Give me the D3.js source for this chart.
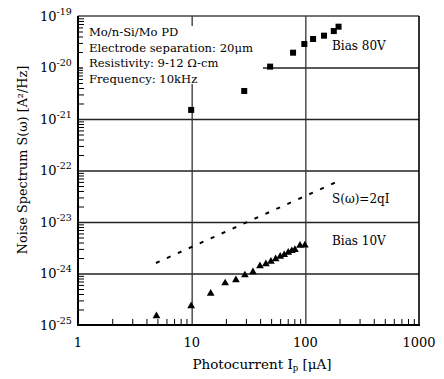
<!DOCTYPE html>
<html>
<head>
<meta charset="utf-8">
<script src="https://d3js.org/d3.v7.min.js"></script>
<style>
  html, body { margin: 0; padding: 0; background: #fff; }
  svg text { font-family: "DejaVu Serif", serif; fill: #000; }
</style>
</head>
<body>
<div id="chart"></div>
<script>
// photocurrent (uA) and noise spectrum (A^2/Hz)
const bias80X = [9.9, 29, 49, 78, 98, 117, 146, 178, 196];
const bias80Y = [1.5e-21, 3.5e-21, 1.04e-20, 1.94e-20, 2.86e-20, 3.58e-20, 4.15e-20, 5.1e-20, 6.2e-20];

const bias10X = [4.9, 9.9, 14.7, 19.7, 24.5, 29.4, 34.6, 39.9, 45, 49.8, 54.8, 60.1, 65.2, 70.7, 76, 81, 89.7, 99];
const bias10Y = [1.5e-25, 2.35e-25, 4.1e-25, 6.5e-25, 7.5e-25, 9.3e-25, 1.07e-24, 1.4e-24, 1.53e-24, 1.71e-24,
                 1.91e-24, 2.14e-24, 2.3e-24, 2.55e-24, 2.75e-24, 2.9e-24, 3.5e-24, 3.55e-24];

// shot noise line S = 2qI, end points
const shotX = [4.85, 198];
const shotY = [1.6e-24, 6.3e-23];

const xTicks = [1, 10, 100, 1000];
const yExps = [-25, -24, -23, -22, -21, -20, -19];
const noteLines = ['Mo/n-Si/Mo PD', 'Electrode separation: 20\u03bcm', 'Resistivity: 9-12 \u03a9-cm', 'Frequency: 10kHz'];

const width = 444;
const height = 379;
const margin = { top: 16, right: 25, bottom: 54, left: 78 };
const innerWidth = width - margin.left - margin.right;
const innerHeight = height - margin.top - margin.bottom;

const svg = d3.select('#chart').append('svg')
  .attr('width', width)
  .attr('height', height);

const g = svg.append('g')
  .attr('transform', `translate(${margin.left},${margin.top})`);

const xScale = d3.scaleLog().domain([1, 1000]).range([0, innerWidth]);
const yScale = d3.scaleLog().domain([1e-25, 1e-19]).range([innerHeight, 0]);

const minors = (lo, hi) => {
  const out = [];
  for (let d = lo; d < hi; d *= 10) for (let k = 2; k <= 9; k++) out.push(d * k);
  return out;
};

// strips the domain path and the empty labels off a line-only axis
const linesOnly = (sel, stroke, sw) => {
  sel.select('.domain').remove();
  sel.selectAll('text').remove();
  sel.selectAll('line').attr('stroke', stroke).attr('stroke-width', sw);
};

// grid lines
const yGrid = g.append('g').call(d3.axisLeft(yScale)
  .tickValues(yExps.slice(1, -1).map(e => Math.pow(10, e)))
  .tickSize(-innerWidth));
linesOnly(yGrid, '#222', 1.3);

const xGrid = g.append('g').attr('transform', `translate(0,${innerHeight})`)
  .call(d3.axisBottom(xScale).tickValues([10, 100]).tickSize(-innerHeight));
linesOnly(xGrid, '#333', 1.3);

// minor ticks
const xMinor = g.append('g').attr('transform', `translate(0,${innerHeight})`)
  .call(d3.axisBottom(xScale).tickValues(minors(1, 1000)).tickSize(-6));
linesOnly(xMinor, '#000', 1);

const yMinor = g.append('g')
  .call(d3.axisLeft(yScale).tickValues(minors(1e-25, 1e-19)).tickSize(-6));
linesOnly(yMinor, '#000', 1);

// frame
g.append('line').attr('x1', 0).attr('x2', innerWidth).attr('y1', 0).attr('y2', 0)
  .attr('stroke', '#444').attr('stroke-width', 1.3);
g.append('line').attr('x1', innerWidth).attr('x2', innerWidth).attr('y1', 0).attr('y2', innerHeight)
  .attr('stroke', '#000').attr('stroke-width', 1.6);
g.append('line').attr('x1', 0).attr('x2', 0).attr('y1', 0).attr('y2', innerHeight + 1)
  .attr('stroke', '#000').attr('stroke-width', 2);
g.append('line').attr('x1', -1).attr('x2', innerWidth + 1).attr('y1', innerHeight).attr('y2', innerHeight)
  .attr('stroke', '#000').attr('stroke-width', 2.2);

// tick labels, placed in page coordinates from the scales
svg.append('g').selectAll('text').data(xTicks)
  .enter().append('text')
    .attr('x', d => margin.left + xScale(d))
    .attr('y', margin.top + innerHeight + 22)
    .attr('text-anchor', 'middle')
    .attr('font-size', 13)
    .text(d3.format('d'));

svg.append('g').selectAll('text').data(yExps)
  .enter().append('text')
    .attr('x', margin.left - 38)
    .attr('y', d => margin.top + yScale(Math.pow(10, d)) + 4.8)
    .attr('font-size', 13)
    .each(function(d) {
      const t = d3.select(this);
      t.append('tspan').text('10');
      t.append('tspan').attr('font-size', 9.5).attr('dy', -6).text(String(d));
    });

// axis titles
const xTitle = svg.append('text')
  .attr('x', margin.left + 184)
  .attr('y', 369)
  .attr('text-anchor', 'middle')
  .attr('font-size', 13.5);
xTitle.append('tspan').text('Photocurrent I');
xTitle.append('tspan').attr('font-size', 8.5).attr('dy', 2).text('p');
xTitle.append('tspan').attr('dy', -2).text(' [\u03bcA]');

svg.append('text')
  .attr('transform', `translate(23,160) rotate(-90)`)
  .attr('text-anchor', 'middle')
  .attr('dy', '0.35em')
  .attr('font-size', 12.8)
  .text('Noise Spectrum S(\u03c9) [A\u00b2/Hz]');

// note box
g.append('rect')
  .attr('x', 5).attr('y', 10)
  .attr('width', 180).attr('height', 58)
  .attr('fill', '#fff');
g.append('g').selectAll('text').data(noteLines)
  .enter().append('text')
    .attr('x', 11)
    .attr('y', (d, i) => 20 + i * 15.7)
    .attr('font-size', 11.6)
    .text(d => d);

// shot noise dashed line
const shot = shotX.map((x, i) => [x, shotY[i]]);
g.append('path')
  .datum(shot)
  .attr('d', d3.line().x(d => xScale(d[0])).y(d => yScale(d[1])))
  .attr('fill', 'none')
  .attr('stroke', '#000')
  .attr('stroke-width', 2)
  .attr('stroke-dasharray', '4,8');

// bias 80V squares
const sq = 6;
g.selectAll('rect.b80').data(bias80X)
  .enter().append('rect')
    .attr('class', 'b80')
    .attr('x', (d, i) => xScale(d) - sq / 2)
    .attr('y', (d, i) => yScale(bias80Y[i]) - sq / 2)
    .attr('width', sq)
    .attr('height', sq)
    .attr('fill', '#000');

// bias 10V triangles
const tri = d3.symbol().type(d3.symbolTriangle).size(26);
g.selectAll('path.b10').data(bias10X)
  .enter().append('path')
    .attr('class', 'b10')
    .attr('d', tri)
    .attr('transform', (d, i) => `translate(${xScale(d)},${yScale(bias10Y[i])})`)
    .attr('fill', '#000');

// series labels
const labels = [
  { text: 'Bias 80V', x: 254, y: 30 },
  { text: 'S(\u03c9)=2qI', x: 254, y: 183 },
  { text: 'Bias 10V', x: 254, y: 225 }
];
g.selectAll('text.lab').data(labels)
  .enter().append('text')
    .attr('class', 'lab')
    .attr('x', d => d.x)
    .attr('y', d => d.y)
    .attr('dy', '0.35em')
    .attr('font-size', 12)
    .text(d => d.text);
</script>
</body>
</html>
